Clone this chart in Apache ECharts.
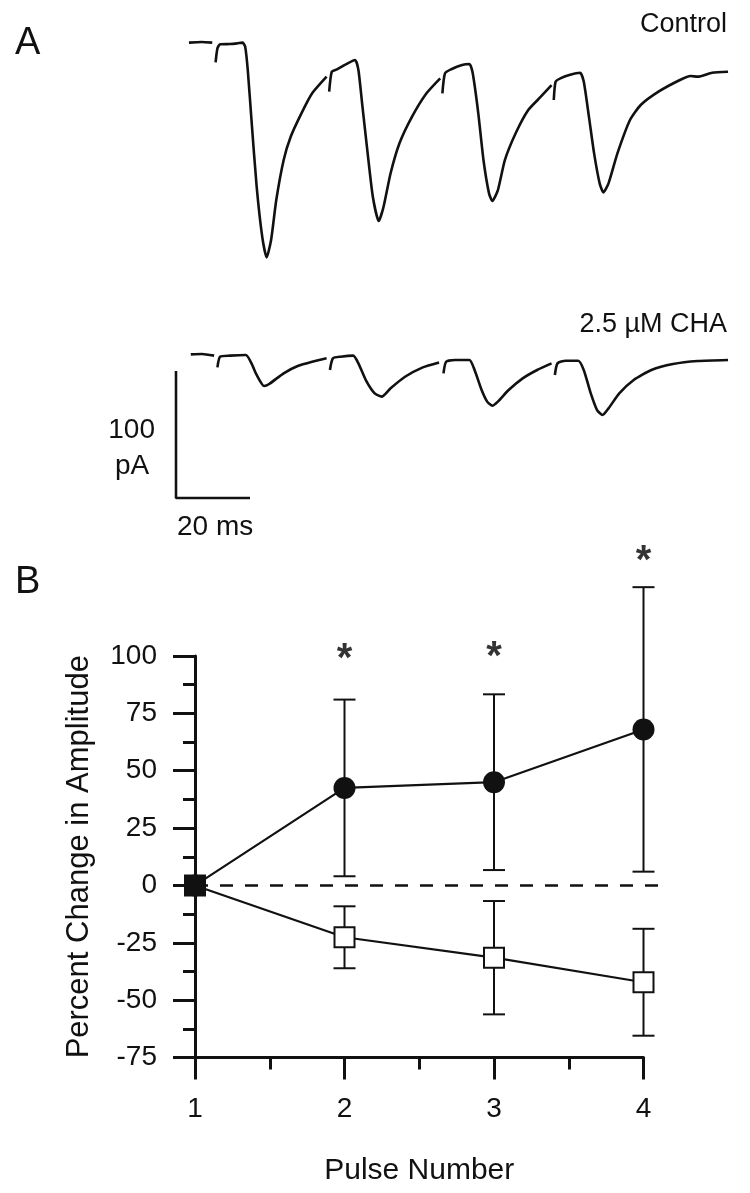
<!DOCTYPE html>
<html><head><meta charset="utf-8">
<script src="https://cdn.jsdelivr.net/npm/echarts@6/dist/echarts.min.js"></script>
<style>html,body{margin:0;padding:0;background:#fff}#c{width:750px;height:1193px}</style>
</head><body><div id="c"></div>
<script>
// ---------- Panel A: current traces, [time (ms), current (pA)], split at stimulus artifacts ----------
const controlSegments = [
  [[3.5,0.3],[6.9,0.8],[9.8,0.3]],
  [[10.7,-15.2],[11.2,-4.2],[11.9,-1.0],[14.6,-0.8],[16.5,-0.3],[18.0,0.3],[18.7,-2.9],[19.4,-21.3],[20.4,-60.6],[21.8,-113.1],[23.3,-152.5],[24.5,-168.8],[25.7,-155.1],[27.1,-123.6],[29.1,-92.1],[31.0,-73.8],[33.9,-55.4],[36.8,-39.6],[40.7,-26.5]],
  [[41.4,-38.3],[42.1,-22.6],[43.5,-20.7],[46.4,-16.0],[48.4,-13.4],[49.3,-21.3],[50.3,-47.5],[51.8,-86.9],[53.2,-121.0],[54.8,-140.2],[56.1,-128.9],[58.0,-102.6],[60.4,-79.0],[63.8,-58.0],[67.7,-39.6],[71.4,-27.8]],
  [[72.0,-39.6],[72.7,-23.9],[74.4,-20.7],[77.3,-17.3],[79.3,-16.5],[80.2,-23.9],[81.7,-55.4],[83.1,-92.1],[84.6,-118.4],[85.5,-124.4],[87.0,-115.8],[88.9,-92.1],[91.8,-71.1],[95.2,-52.8],[98.6,-42.3],[101.5,-33.1]],
  [[102.1,-44.9],[102.6,-30.4],[103.9,-27.8],[106.3,-25.2],[109.2,-23.4],[110.2,-30.4],[111.6,-58.0],[113.0,-86.9],[114.5,-110.5],[115.5,-117.6],[116.9,-110.5],[119.3,-86.9],[122.7,-60.6],[125.6,-48.8],[130.4,-38.3],[136.2,-29.1],[139.1,-26.0],[141.0,-26.5],[144.9,-23.4],[149.2,-22.6]]
];
const chaSegments = [
  [[4.0,-0.3],[7.0,0],[10.3,-1.3]],
  [[11.2,-10.5],[11.9,-2.1],[14.6,-1.3],[18.9,-0.8],[20.4,-7.4],[21.8,-16.5],[23.8,-25.2],[25.2,-23.6],[29.1,-15.2],[32.9,-9.5],[36.8,-6.1],[40.7,-3.4]],
  [[41.6,-12.6],[42.4,-3.4],[44.5,-2.1],[47.9,-1.3],[49.3,-7.4],[51.3,-20.5],[53.7,-31.0],[55.6,-33.6],[58.0,-27.0],[61.9,-17.9],[66.7,-10.5],[71.1,-6.6]],
  [[72.3,-15.2],[73.0,-6.1],[75.4,-4.7],[79.3,-4.7],[80.7,-12.6],[82.6,-28.4],[84.1,-37.5],[85.5,-40.7],[87.0,-37.5],[89.9,-28.4],[93.7,-19.2],[97.6,-12.6],[101.5,-7.4]],
  [[102.4,-16.5],[103.1,-7.4],[105.3,-5.3],[108.7,-5.3],[110.2,-12.6],[112.1,-31.0],[113.8,-44.1],[115.3,-48.0],[116.9,-42.8],[119.8,-31.0],[123.7,-20.5],[128.5,-12.6],[134.3,-7.9],[141.0,-5.5],[149.2,-4.7]]
];
// scale bar: origin (ms, pA) and lengths
const scaleBarOrigin = [0, -113.4];
const scaleBarMs = 20;
const scaleBarPA = 100;

// ---------- Panel B ----------
const pulses = [1, 2, 3, 4];
const controlMean = [0, 42.5, 45.0, 68.0];
const controlErr  = [0, 38.5, 38.3, 62.0];
const chaMean = [0, -22.6, -31.5, -42.2];
const chaErr  = [0, 13.5, 24.7, 23.3];
const starPulses = [2, 3, 4];
const starLevels = [102, 103, 145];
const zeroLine = [[1, 0], [4.1, 0]];

const FONT = 'Liberation Sans, Arial, Helvetica, sans-serif';
const INK = '#111';

const chart = echarts.init(document.getElementById('c'), null, {renderer: 'canvas'});

function errRender(params, api) {
  const x = api.value(0), lo = api.value(1), hi = api.value(2);
  const a = api.coord([x, hi]), b = api.coord([x, lo]);
  const hw = 11;
  const st = {stroke: INK, lineWidth: 2};
  return {type: 'group', children: [
    {type: 'line', shape: {x1: a[0], y1: a[1], x2: b[0], y2: b[1]}, style: st},
    {type: 'line', shape: {x1: a[0]-hw, y1: a[1], x2: a[0]+hw, y2: a[1]}, style: st},
    {type: 'line', shape: {x1: b[0]-hw, y1: b[1], x2: b[0]+hw, y2: b[1]}, style: st}
  ]};
}
function errData(mean, err) {
  const out = [];
  pulses.forEach((p, i) => { if (err[i] > 0) out.push([p, mean[i] - err[i], mean[i] + err[i]]); });
  return out;
}
function dashRender(params, api) {
  if (params.dataIndex !== 0) return null;
  const a = api.coord(zeroLine[0]), b = api.coord(zeroLine[1]);
  return {type: 'line', shape: {x1: a[0], y1: a[1], x2: b[0], y2: b[1]},
    style: {stroke: INK, lineWidth: 2.5, lineDash: [13, 12]}};
}

const traceLine = {width: 2.6, color: INK};
const series = [];
controlSegments.forEach(seg => series.push({type: 'line', xAxisIndex: 0, yAxisIndex: 0, data: seg, symbol: 'none', smooth: 0.2, lineStyle: traceLine, silent: true}));
chaSegments.forEach(seg => series.push({type: 'line', xAxisIndex: 1, yAxisIndex: 1, data: seg, symbol: 'none', smooth: 0.2, lineStyle: traceLine, silent: true}));
series.push({type: 'line', xAxisIndex: 1, yAxisIndex: 1, symbol: 'none', clip: false,
  data: [[scaleBarOrigin[0], scaleBarOrigin[1] + scaleBarPA], scaleBarOrigin, [scaleBarOrigin[0] + scaleBarMs, scaleBarOrigin[1]]],
  lineStyle: {width: 2.6, color: INK}});

// Panel B
series.push({type: 'custom', xAxisIndex: 2, yAxisIndex: 2, renderItem: dashRender, data: zeroLine, clip: false, z: 1});
series.push({type: 'custom', xAxisIndex: 2, yAxisIndex: 2, renderItem: errRender, data: errData(controlMean, controlErr), clip: false, z: 2});
series.push({type: 'custom', xAxisIndex: 2, yAxisIndex: 2, renderItem: errRender, data: errData(chaMean, chaErr), clip: false, z: 2});
series.push({type: 'line', xAxisIndex: 2, yAxisIndex: 2, clip: false, z: 3,
  data: pulses.map((p, i) => i === 0 ? {value: [p, chaMean[i]], itemStyle: {color: INK}} : [p, chaMean[i]]),
  symbol: 'rect', symbolSize: 20, lineStyle: {width: 2.2, color: INK},
  itemStyle: {color: '#fff', borderColor: INK, borderWidth: 2}});
series.push({type: 'line', xAxisIndex: 2, yAxisIndex: 2, clip: false, z: 4,
  data: pulses.map((p, i) => [p, controlMean[i]]),
  symbol: 'circle', symbolSize: 22, lineStyle: {width: 2.2, color: INK},
  itemStyle: {color: INK, borderWidth: 0}});
series.push({type: 'scatter', xAxisIndex: 2, yAxisIndex: 2, clip: false, z: 5, symbolSize: 1,
  itemStyle: {color: 'rgba(0,0,0,0)'},
  data: starPulses.map((p, i) => [p, starLevels[i]]),
  label: {show: true, formatter: '*', position: 'inside', offset: [0, 9], fontSize: 40, fontWeight: 'bold', fontFamily: FONT, color: '#000'}});

const hiddenAxis = {show: false};
const option = {
  animation: false,
  backgroundColor: '#fff',
  grid: [
    {left: 176, top: 17.6, width: 555, height: 254},
    {left: 176, top: 328.6, width: 555, height: 177.8},
    {left: 195, top: 656, width: 448.5, height: 401.5}
  ],
  xAxis: [
    Object.assign({type: 'value', gridIndex: 0, min: 0, max: 150}, hiddenAxis),
    Object.assign({type: 'value', gridIndex: 1, min: 0, max: 150}, hiddenAxis),
    {type: 'value', gridIndex: 2, min: 1, max: 4, interval: 1,
      name: 'Pulse Number', nameLocation: 'middle', nameGap: 98,
      nameTextStyle: {fontSize: 30, fontFamily: FONT, color: INK},
      axisLine: {show: true, onZero: false, lineStyle: {color: INK, width: 3}},
      axisTick: {show: true, length: 22, lineStyle: {color: INK, width: 3}},
      minorTick: {show: true, splitNumber: 2, length: 12, lineStyle: {color: INK, width: 3}},
      splitLine: {show: false},
      axisLabel: {fontSize: 28, fontFamily: FONT, color: INK, margin: 38}}
  ],
  yAxis: [
    Object.assign({type: 'value', gridIndex: 0, min: -180, max: 20}, hiddenAxis),
    Object.assign({type: 'value', gridIndex: 1, min: -120, max: 20}, hiddenAxis),
    {type: 'value', gridIndex: 2, min: -75, max: 100, interval: 25,
      name: 'Percent Change in Amplitude', nameLocation: 'middle', nameGap: 100,
      nameTextStyle: {fontSize: 31, fontFamily: FONT, color: INK},
      axisLine: {show: true, onZero: false, lineStyle: {color: INK, width: 3}},
      axisTick: {show: true, length: 22, lineStyle: {color: INK, width: 3}},
      minorTick: {show: true, splitNumber: 2, length: 12, lineStyle: {color: INK, width: 3}},
      splitLine: {show: false},
      axisLabel: {fontSize: 28, fontFamily: FONT, color: INK, margin: 38}}
  ],
  graphic: [
    {type: 'text', left: 15, top: 25, style: {text: 'A', font: '38px ' + FONT, fill: INK}},
    {type: 'text', left: 15, top: 564, style: {text: 'B', font: '38px ' + FONT, fill: INK}},
    {type: 'text', right: 23, top: 11, style: {text: 'Control', font: '27px ' + FONT, fill: INK}},
    {type: 'text', right: 23, top: 311, style: {text: '2.5 µM CHA', font: '27px ' + FONT, fill: INK}},
    {type: 'text', right: 595, top: 416, style: {text: '100', font: '28px ' + FONT, fill: INK}},
    {type: 'text', left: 115, top: 452, style: {text: 'pA', font: '28px ' + FONT, fill: INK}},
    {type: 'text', left: 177, top: 513, style: {text: '20 ms', font: '28px ' + FONT, fill: INK}}
  ],
  series: series
};
chart.setOption(option);
</script>
</body></html>
